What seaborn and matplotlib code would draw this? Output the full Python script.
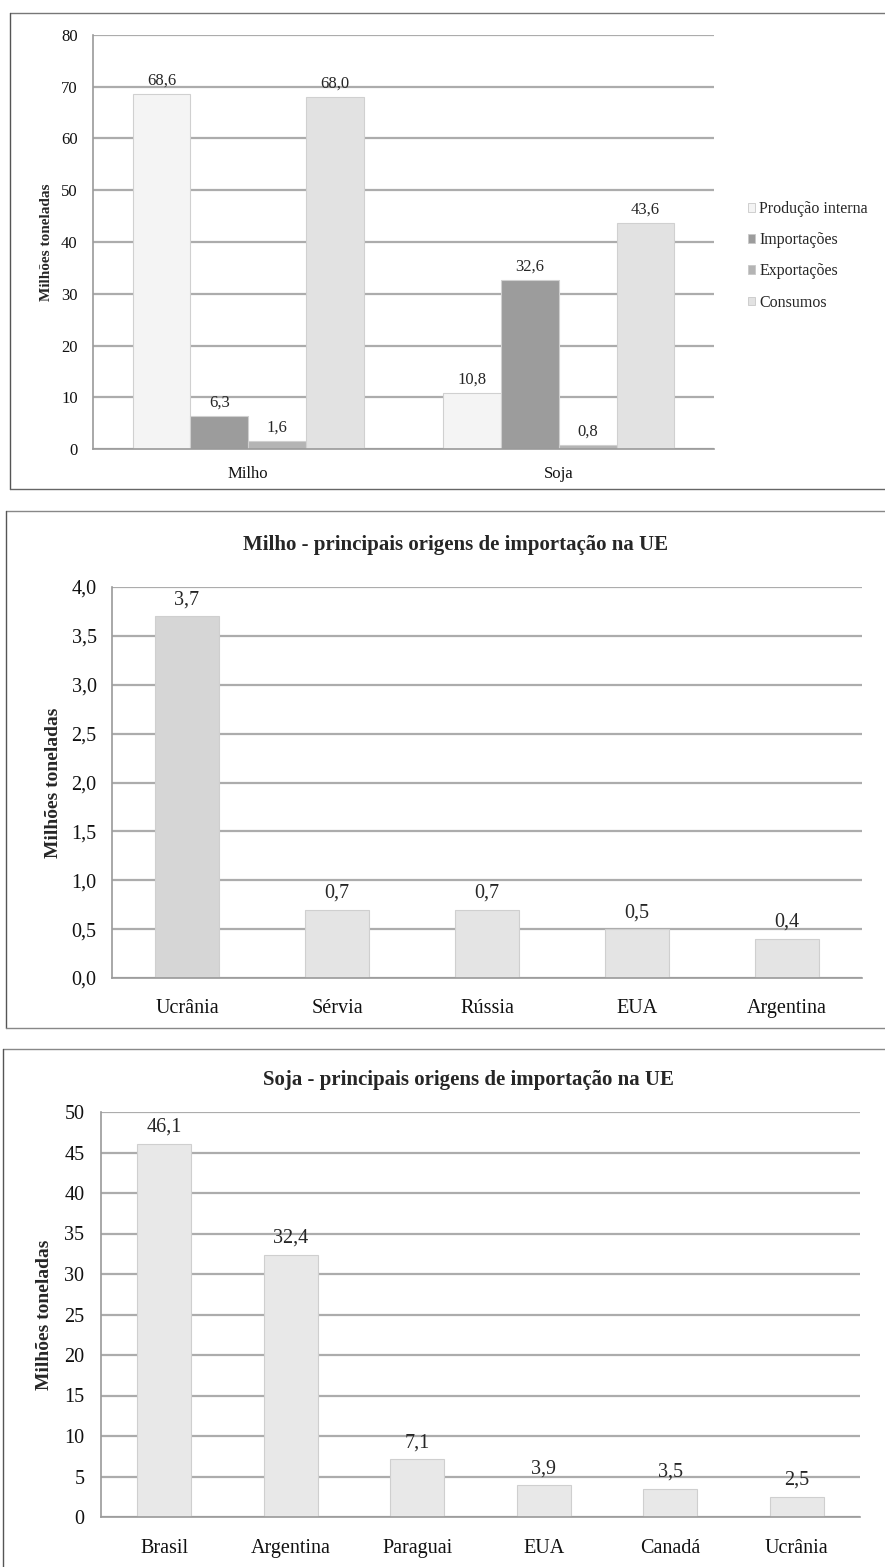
import matplotlib
matplotlib.use("Agg")
import matplotlib.pyplot as plt
import seaborn as sns
import pandas as pd
from matplotlib.patches import Patch
from matplotlib.ticker import FixedLocator, FuncFormatter
from matplotlib.lines import Line2D

# ---- data ----
cats1 = ["Milho", "Soja"]
series1 = ["Produção interna", "Importações", "Exportações", "Consumos"]
prod_interna = [68.6, 10.8]
importacoes = [6.3, 32.6]
exportacoes = [1.6, 0.8]
consumos = [68.0, 43.6]

milho_orig = ["Ucrânia", "Sérvia", "Rússia", "EUA", "Argentina"]
milho_vals = [3.7, 0.7, 0.7, 0.5, 0.4]

soja_orig = ["Brasil", "Argentina", "Paraguai", "EUA", "Canadá", "Ucrânia"]
soja_vals = [46.1, 32.4, 7.1, 3.9, 3.5, 2.5]

sns.set_theme(style="white")
plt.rcParams["font.family"] = ["Liberation Serif", "DejaVu Serif"]

W, H = 885, 1567
fig = plt.figure(figsize=(W / 100, H / 100), dpi=100)
fig.patch.set_facecolor("white")

GRID = "#acacac"
SPINE = "#9a9a9a"


def fr_ax(x0, y0, x1, y1):
    return fig.add_axes([x0 / W, 1 - y1 / H, (x1 - x0) / W, (y1 - y0) / H])


def style_ax(ax, fs, ypad, xpad):
    ax.set_facecolor("white")
    for s in ["top", "right"]:
        ax.spines[s].set_visible(False)
    for s in ["left", "bottom"]:
        ax.spines[s].set_color(SPINE)
        ax.spines[s].set_linewidth(1.2)
    ax.yaxis.grid(True, color=GRID, linewidth=1.6)
    ax.set_axisbelow(True)
    ax.tick_params(axis="y", length=0, labelsize=fs, pad=ypad, colors="#111111")
    ax.tick_params(axis="x", which="major", length=0, labelsize=fs, pad=xpad, colors="#111111")
    ax.tick_params(axis="x", which="minor", length=5, color=SPINE, width=1.2)
    n = len(ax.get_xticks())
    ax.xaxis.set_minor_locator(FixedLocator([i - 0.5 for i in range(n + 1)]))
    ax.set_xlim(-0.5, n - 0.5)
    ax.set_xlabel("")


def comma(v, dec=1):
    return f"{v:.{dec}f}".replace(".", ",")


# ---- chart 1 ----
df1 = pd.DataFrame({
    "cat": cats1 * 4,
    "serie": [s for s in series1 for _ in cats1],
    "val": prod_interna + importacoes + exportacoes + consumos,
})
pal1 = ["#f4f4f4", "#9c9c9c", "#b4b4b4", "#e2e2e2"]
ax1 = fr_ax(93, 35, 714, 449)
sns.barplot(data=df1, x="cat", y="val", hue="serie", hue_order=series1,
            palette=pal1, width=0.745, ax=ax1, legend=False,
            edgecolor="#d0d0d0", linewidth=0.8, saturation=1)
style_ax(ax1, 12, 11, 12)
ax1.set_ylim(0, 80)
ax1.set_yticks(range(0, 81, 10))
ax1.set_ylabel("Milhões toneladas", fontsize=11, fontweight="bold", labelpad=6)
for c in ax1.containers:
    ax1.bar_label(c, labels=[comma(v) for v in c.datavalues], fontsize=12, padding=4)
handles = [Patch(facecolor=p, edgecolor="#c8c8c8", linewidth=0.6) for p in pal1]
fig.legend(handles, series1, loc="upper left", bbox_to_anchor=(748 / W, 1 - 201 / H),
           frameon=False, fontsize=11.5, handlelength=0.45, handleheight=0.45,
           handletextpad=0.25, labelspacing=0.95, borderpad=0, borderaxespad=0)

# ---- chart 2 ----
df2 = pd.DataFrame({"orig": milho_orig, "val": milho_vals})
pal2 = ["#d6d6d6", "#e4e4e4", "#e4e4e4", "#e4e4e4", "#e4e4e4"]
ax2 = fr_ax(112, 587, 862, 978)
sns.barplot(data=df2, x="orig", y="val", hue="orig", palette=pal2, width=0.43,
            ax=ax2, legend=False, edgecolor="#cfcfcf", linewidth=0.8, saturation=1)
style_ax(ax2, 14.5, 11, 15)
ax2.set_ylim(0, 4.0)
ax2.set_yticks([i * 0.5 for i in range(9)])
ax2.yaxis.set_major_formatter(FuncFormatter(lambda v, p: comma(v)))
ax2.set_ylabel("Milhões toneladas", fontsize=14, fontweight="bold", labelpad=7)
fig.text(455 / W, 1 - 545 / H, "Milho - principais origens de importação na UE",
         fontsize=15, fontweight="bold", ha="center", va="center")
for c in ax2.containers:
    ax2.bar_label(c, labels=[comma(v) for v in c.datavalues], fontsize=14.5, padding=5)

# ---- chart 3 ----
df3 = pd.DataFrame({"orig": soja_orig, "val": soja_vals})
ax3 = fr_ax(101, 1112, 860, 1517)
sns.barplot(data=df3, x="orig", y="val", color="#e8e8e8", width=0.43,
            ax=ax3, edgecolor="#cfcfcf", linewidth=0.8, saturation=1)
style_ax(ax3, 14.5, 12, 15.5)
ax3.set_ylim(0, 50)
ax3.set_yticks(range(0, 51, 5))
ax3.set_ylabel("Milhões toneladas", fontsize=14, fontweight="bold", labelpad=8)
fig.text(468 / W, 1 - 1080 / H, "Soja - principais origens de importação na UE",
         fontsize=15, fontweight="bold", ha="center", va="center")
for c in ax3.containers:
    ax3.bar_label(c, labels=[comma(v) for v in c.datavalues], fontsize=14.5, padding=5)

# ---- scanned page panel borders ----
def fline(x0, y0, x1, y1, color="#555555", lw=1.0):
    fig.add_artist(Line2D([x0 / W, x1 / W], [1 - y0 / H, 1 - y1 / H],
                          color=color, linewidth=lw, transform=fig.transFigure))

fline(10, 13, 885, 13, color="#777777")
fline(10, 13, 10, 489)
fline(10, 489, 885, 489, color="#666666")
fline(6, 511, 885, 511, color="#888888")
fline(6, 511, 6, 1028)
fline(6, 1028, 885, 1028, color="#888888")
fline(3, 1049, 885, 1049, color="#888888")
fline(3, 1049, 3, 1567)

fig.savefig("out.png", dpi=100, facecolor="white")
